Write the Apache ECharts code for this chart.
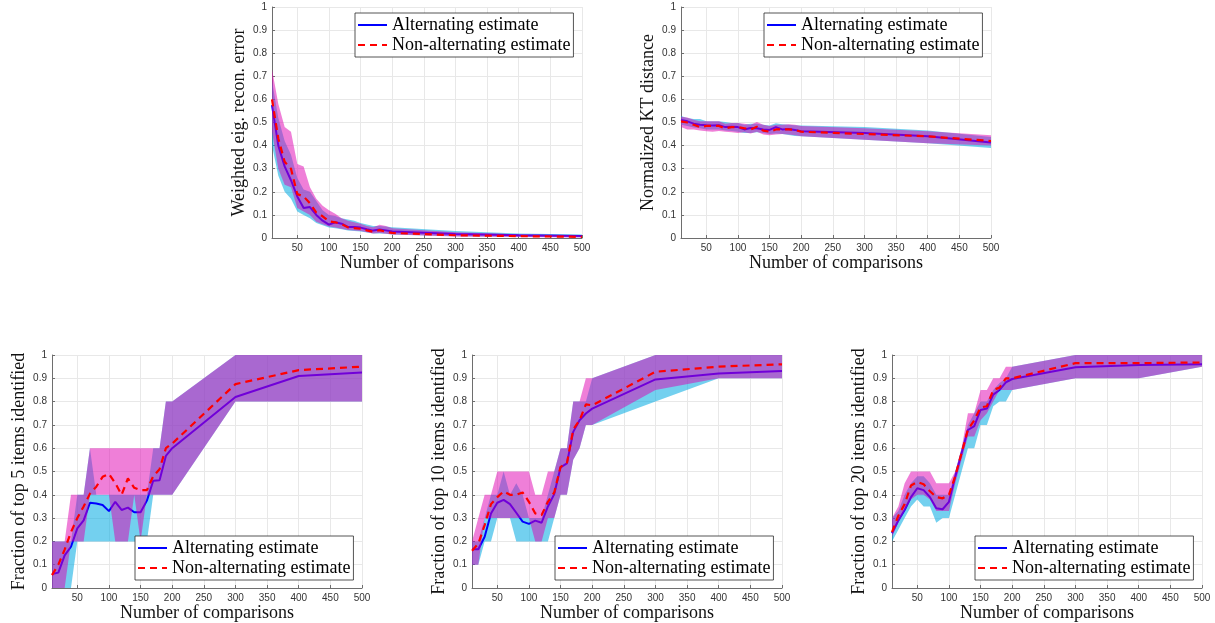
<!DOCTYPE html>
<html>
<head>
<meta charset="utf-8">
<script src="https://cdn.jsdelivr.net/npm/echarts@6/dist/echarts.min.js"></script>
<style>
html,body{margin:0;padding:0;background:#fff;}
#chart{width:1215px;height:623px;}
</style>
</head>
<body>
<div id="chart"></div>
<script>
// ---- data ----
const xVals = [10,20,30,40,50,60,70,80,90,100,110,120,130,140,150,160,170,180,190,200,300,400,500];
const xTickLabels = [50,100,150,200,250,300,350,400,450,500];
const yTitles = [
  'Weighted eig. recon. error',
  'Normalized KT distance',
  'Fraction of top 5 items identified',
  'Fraction of top 10 items identified',
  'Fraction of top 20 items identified'
];
const seriesNames = ['Alternating estimate', 'Non-alternating estimate'];

// Plot 1: weighted eigenvector reconstruction error
const altMean1 = [0.575,0.40,0.31,0.25,0.18,0.13,0.134,0.10,0.075,0.058,0.068,0.062,0.048,0.048,0.045,0.038,0.032,0.037,0.033,0.028,0.017,0.012,0.009];
const altLo1   = [0.40,0.27,0.20,0.17,0.115,0.10,0.085,0.065,0.055,0.045,0.042,0.038,0.033,0.03,0.028,0.024,0.02,0.02,0.018,0.015,0.008,0.005,0.003];
const altHi1   = [0.68,0.52,0.42,0.36,0.26,0.21,0.20,0.16,0.12,0.10,0.095,0.085,0.08,0.075,0.065,0.058,0.052,0.052,0.05,0.047,0.03,0.02,0.015];
const nonMean1 = [0.60,0.43,0.33,0.30,0.19,0.18,0.15,0.11,0.094,0.072,0.068,0.06,0.046,0.043,0.04,0.033,0.027,0.034,0.027,0.022,0.012,0.008,0.005];
const nonLo1   = [0.46,0.30,0.23,0.22,0.13,0.115,0.10,0.07,0.06,0.05,0.045,0.04,0.035,0.032,0.03,0.025,0.02,0.022,0.018,0.015,0.007,0.004,0.002];
const nonHi1   = [0.73,0.58,0.48,0.46,0.32,0.31,0.22,0.17,0.14,0.12,0.105,0.085,0.075,0.068,0.062,0.052,0.047,0.057,0.052,0.042,0.025,0.016,0.012];

// Plot 2: normalized KT distance
const altMean2 = [0.511,0.505,0.495,0.49,0.488,0.487,0.488,0.48,0.482,0.48,0.47,0.476,0.475,0.47,0.468,0.48,0.47,0.472,0.468,0.462,0.455,0.44,0.413];
const altLo2   = [0.49,0.485,0.478,0.475,0.47,0.47,0.47,0.465,0.463,0.46,0.455,0.455,0.458,0.455,0.45,0.452,0.45,0.446,0.442,0.44,0.425,0.41,0.39];
const altHi2   = [0.528,0.52,0.515,0.515,0.505,0.505,0.505,0.502,0.498,0.498,0.49,0.495,0.495,0.49,0.487,0.497,0.492,0.49,0.488,0.487,0.48,0.465,0.437];
const nonMean2 = [0.505,0.50,0.49,0.48,0.485,0.485,0.485,0.475,0.48,0.48,0.475,0.47,0.482,0.465,0.46,0.47,0.47,0.47,0.468,0.46,0.45,0.44,0.42];
const nonLo2   = [0.48,0.47,0.47,0.465,0.462,0.46,0.463,0.46,0.458,0.455,0.458,0.452,0.46,0.448,0.445,0.448,0.45,0.448,0.445,0.44,0.425,0.41,0.40];
const nonHi2   = [0.525,0.522,0.512,0.505,0.505,0.505,0.505,0.495,0.498,0.498,0.495,0.49,0.502,0.49,0.485,0.49,0.49,0.492,0.49,0.485,0.475,0.462,0.445];

// Plot 3: top 5
const altMean3 = [0.06,0.066,0.14,0.177,0.256,0.29,0.366,0.363,0.356,0.33,0.37,0.335,0.345,0.325,0.325,0.375,0.46,0.462,0.567,0.60,0.82,0.91,0.925];
const altLo3   = [0,0,0,0,0.2,0.2,0.2,0.2,0.2,0.2,0.2,0.2,0.2,0.2,0.2,0.2,0.4,0.4,0.4,0.4,0.8,0.8,0.8];
const altHi3   = [0.2,0.2,0.2,0.2,0.4,0.4,0.6,0.4,0.4,0.4,0.4,0.4,0.4,0.4,0.4,0.4,0.6,0.6,0.8,0.8,1,1,1];
const nonMean3 = [0.055,0.10,0.165,0.24,0.30,0.35,0.405,0.435,0.477,0.49,0.45,0.40,0.47,0.43,0.42,0.42,0.48,0.51,0.60,0.62,0.875,0.935,0.95];
const nonLo3   = [0,0,0,0.2,0.2,0.2,0.4,0.4,0.4,0.4,0.2,0.2,0.2,0.4,0.2,0.4,0.4,0.4,0.4,0.4,0.8,0.8,0.8];
const nonHi3   = [0.2,0.2,0.2,0.4,0.4,0.4,0.6,0.6,0.6,0.6,0.6,0.6,0.6,0.6,0.6,0.6,0.6,0.6,0.8,0.8,1,1,1];

// Plot 4: top 10
const altMean4 = [0.166,0.166,0.22,0.32,0.366,0.378,0.36,0.323,0.285,0.275,0.289,0.28,0.35,0.403,0.518,0.535,0.67,0.72,0.749,0.77,0.895,0.921,0.931];
const altLo4   = [0.1,0.1,0.2,0.2,0.3,0.3,0.3,0.2,0.2,0.2,0.2,0.2,0.2,0.3,0.4,0.4,0.55,0.6,0.7,0.7,0.8,0.9,0.9];
const altHi4   = [0.2,0.2,0.3,0.4,0.4,0.5,0.4,0.45,0.4,0.3,0.3,0.3,0.4,0.5,0.6,0.6,0.8,0.8,0.8,0.9,1,1,1];
const nonMean4 = [0.16,0.19,0.27,0.36,0.39,0.415,0.40,0.40,0.41,0.37,0.32,0.313,0.37,0.41,0.52,0.535,0.68,0.72,0.788,0.784,0.928,0.95,0.96];
const nonLo4   = [0.1,0.1,0.3,0.3,0.3,0.3,0.3,0.3,0.3,0.3,0.2,0.2,0.3,0.3,0.4,0.4,0.55,0.6,0.7,0.7,0.85,0.9,0.9];
const nonHi4   = [0.2,0.3,0.4,0.4,0.5,0.5,0.5,0.5,0.5,0.5,0.4,0.4,0.5,0.5,0.6,0.6,0.8,0.8,0.9,0.9,1,1,1];

// Plot 5: top 20
const altMean5 = [0.235,0.29,0.335,0.39,0.428,0.42,0.39,0.342,0.338,0.37,0.478,0.578,0.678,0.695,0.764,0.77,0.83,0.85,0.883,0.897,0.947,0.957,0.96];
const altLo5   = [0.2,0.25,0.3,0.35,0.38,0.35,0.35,0.28,0.3,0.3,0.4,0.5,0.6,0.6,0.7,0.7,0.78,0.8,0.8,0.85,0.9,0.9,0.95];
const altHi5   = [0.3,0.33,0.4,0.45,0.48,0.48,0.45,0.4,0.4,0.4,0.5,0.6,0.7,0.75,0.8,0.8,0.85,0.88,0.9,0.95,1,1,1];
const nonMean5 = [0.24,0.31,0.36,0.44,0.455,0.445,0.415,0.39,0.385,0.40,0.48,0.58,0.68,0.72,0.775,0.78,0.85,0.86,0.9,0.9,0.965,0.965,0.968];
const nonLo5   = [0.22,0.28,0.33,0.38,0.4,0.4,0.38,0.33,0.33,0.33,0.45,0.55,0.65,0.65,0.72,0.75,0.8,0.85,0.85,0.85,0.9,0.9,0.95];
const nonHi5   = [0.3,0.35,0.45,0.5,0.5,0.5,0.5,0.45,0.45,0.45,0.5,0.6,0.75,0.75,0.85,0.85,0.9,0.9,0.95,0.95,1,1,1];

const plots = [
  {altMean: altMean1, altLo: altLo1, altHi: altHi1, nonMean: nonMean1, nonLo: nonLo1, nonHi: nonHi1},
  {altMean: altMean2, altLo: altLo2, altHi: altHi2, nonMean: nonMean2, nonLo: nonLo2, nonHi: nonHi2},
  {altMean: altMean3, altLo: altLo3, altHi: altHi3, nonMean: nonMean3, nonLo: nonLo3, nonHi: nonHi3},
  {altMean: altMean4, altLo: altLo4, altHi: altHi4, nonMean: nonMean4, nonLo: nonLo4, nonHi: nonHi4},
  {altMean: altMean5, altLo: altLo5, altHi: altHi5, nonMean: nonMean5, nonLo: nonLo5, nonHi: nonHi5}
];

// ---- layout / style ----
const grids = [
  {left: 272, top: 7, width: 310, height: 231},
  {left: 681, top: 7, width: 310, height: 231},
  {left: 52, top: 355, width: 310, height: 233},
  {left: 472, top: 355, width: 310, height: 233},
  {left: 892, top: 355, width: 310, height: 233}
];
const legendPos = [
  {left: 355, top: 13},
  {left: 764, top: 13},
  {left: 135, top: 536},
  {left: 555, top: 536},
  {left: 975, top: 536}
];
const CYAN = '#00aae1';
const MAGENTA = '#df00b1';
const serif = 'Liberation Serif';
const sans = 'Liberation Sans';
const axisCol = '#6e6e6e';
const gridCol = '#e8e8e8';

const pairs = (ys) => xVals.map((x, i) => [x, ys[i]]);

// band polygon drawn through the axis scales (api.coord)
function bandSeries(i, lo, hi, color, opacity, z, tag) {
  const bandData = xVals.map((x, k) => [x, lo[k], hi[k]]);
  return {
    type: 'custom', name: tag + i, xAxisIndex: i, yAxisIndex: i,
    silent: true, animation: false, z: z, clip: true,
    encode: {x: 0, y: [1, 2]},
    data: bandData,
    renderItem: function (params, api) {
      if (params.dataIndex !== 0) return null;
      const upper = bandData.map(d => api.coord([d[0], d[2]]));
      const lower = bandData.map(d => api.coord([d[0], d[1]])).reverse();
      return {
        type: 'polygon',
        shape: {points: upper.concat(lower)},
        style: {fill: color, opacity: opacity, stroke: null}
      };
    }
  };
}

const xAxes = [], yAxes = [], series = [], legends = [];
plots.forEach((p, i) => {
  xAxes.push({
    type: 'value', gridIndex: i, min: 10, max: 500,
    name: 'Number of comparisons', nameLocation: 'middle', nameGap: 16,
    nameTextStyle: {fontFamily: serif, fontSize: 18, color: '#111'},
    axisLine: {show: true, onZero: false, lineStyle: {color: axisCol, width: 1}},
    axisTick: {show: true, inside: true, length: 3, customValues: xTickLabels, lineStyle: {color: axisCol}},
    axisLabel: {customValues: xTickLabels, fontFamily: sans, fontSize: 10, color: '#333', margin: 5},
    splitLine: {show: true, lineStyle: {color: gridCol, width: 1}}
  });
  yAxes.push({
    type: 'value', gridIndex: i, min: 0, max: 1, interval: 0.1,
    name: yTitles[i], nameLocation: 'middle', nameGap: 24, nameRotate: 90,
    nameTextStyle: {fontFamily: serif, fontSize: 18, color: '#111'},
    axisLine: {show: true, onZero: false, lineStyle: {color: axisCol, width: 1}},
    axisTick: {show: true, inside: true, length: 3, lineStyle: {color: axisCol}},
    axisLabel: {fontFamily: sans, fontSize: 10, color: '#333', margin: 5},
    splitLine: {show: true, lineStyle: {color: gridCol, width: 1}}
  });
  const common = {type: 'line', xAxisIndex: i, yAxisIndex: i, symbol: 'none', showSymbol: false, silent: true, animation: false, emphasis: {disabled: true}};
  series.push(bandSeries(i, p.altLo, p.altHi, CYAN, 0.55, 1, 'altBand'));
  series.push(Object.assign({}, common, {
    name: seriesNames[0], data: pairs(p.altMean), z: 2,
    itemStyle: {color: '#0000ff'},
    lineStyle: {color: '#0000ff', width: 2}
  }));
  series.push(bandSeries(i, p.nonLo, p.nonHi, MAGENTA, 0.5, 3, 'nonBand'));
  series.push(Object.assign({}, common, {
    name: seriesNames[1], data: pairs(p.nonMean), z: 4,
    itemStyle: {color: '#ff0000'},
    lineStyle: {color: '#ff0000', width: 2.2, type: [7, 5]}
  }));
  legends.push({
    left: legendPos[i].left, top: legendPos[i].top,
    orient: 'vertical', data: seriesNames, selectedMode: false,
    itemWidth: 29, itemHeight: 14, itemGap: 0,
    padding: [2, 3, 2, 2],
    itemStyle: {opacity: 0, borderWidth: 0},
    backgroundColor: '#fff', borderColor: '#2a2a2a', borderWidth: 0.8,
    textStyle: {fontFamily: serif, fontSize: 18, color: '#000', lineHeight: 20}
  });
});

const chart = echarts.init(document.getElementById('chart'), null, {renderer: 'canvas'});
chart.setOption({
  animation: false,
  backgroundColor: '#fff',
  grid: grids,
  xAxis: xAxes,
  yAxis: yAxes,
  legend: legends,
  series: series
});
</script>
</body>
</html>
